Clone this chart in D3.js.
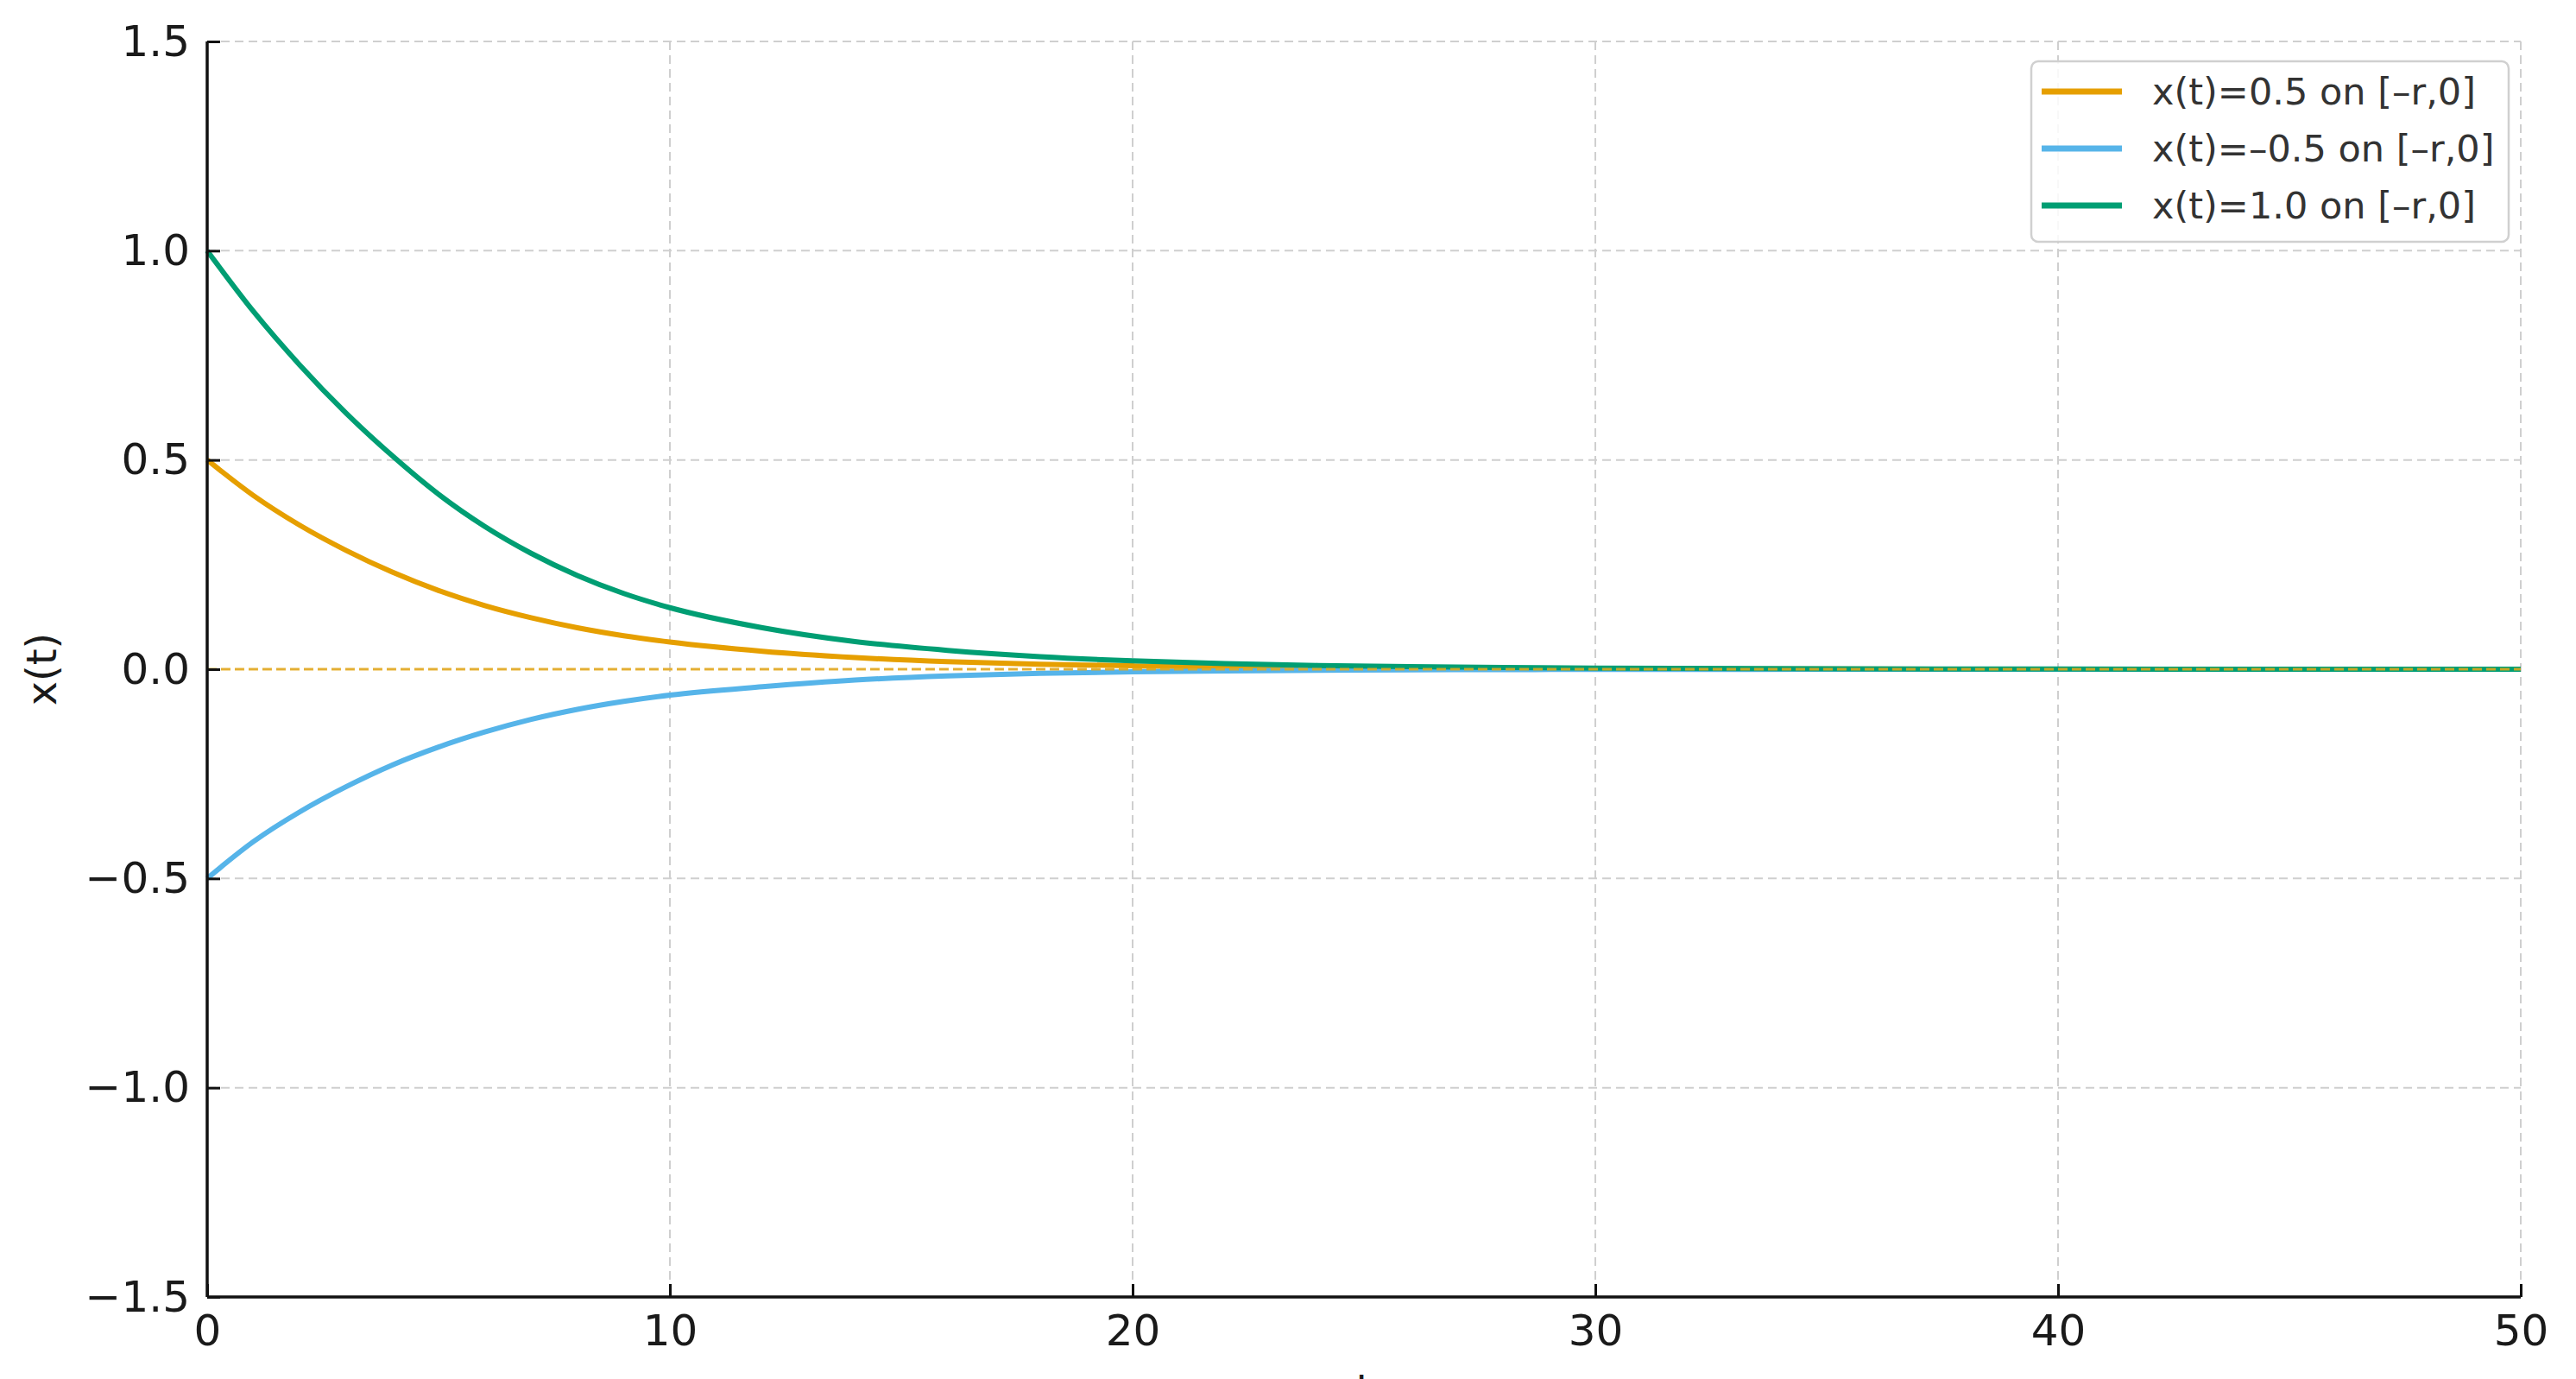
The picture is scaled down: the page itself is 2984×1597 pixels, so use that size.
<!DOCTYPE html>
<html>
<head>
<meta charset="utf-8">
<script src="https://cdn.jsdelivr.net/npm/d3@7"></script>
<style>
  html, body { margin: 0; padding: 0; background: #fff; }
  svg { display: block; font-family: "DejaVu Sans", sans-serif; }
</style>
</head>
<body>
<div id="chart"></div>
<script>
// Sample times (t)
const times = [0, 1, 2, 3, 4, 5, 6, 7, 8, 9, 10, 12, 14, 16, 18, 20, 22, 24, 26, 28, 30, 35, 40, 45, 50];

// x(t) for each initial history
const seriesHalf = [0.5, 0.415, 0.344, 0.284, 0.232, 0.188, 0.152, 0.123, 0.099, 0.080, 0.065, 0.043, 0.028, 0.018, 0.012, 0.008, 0.005, 0.0033, 0.002, 0.0014, 0.0009, 0.0003, 0, 0, 0];
const seriesNegHalf = [-0.5, -0.412, -0.341, -0.281, -0.229, -0.186, -0.150, -0.120, -0.096, -0.077, -0.062, -0.042, -0.026, -0.016, -0.010, -0.006, -0.004, -0.0025, -0.0016, -0.001, -0.0006, -0.0002, 0, 0, 0];
const seriesOne = [1.0, 0.855, 0.727, 0.612, 0.51, 0.418, 0.341, 0.277, 0.224, 0.181, 0.147, 0.099, 0.066, 0.045, 0.030, 0.020, 0.0135, 0.009, 0.006, 0.004, 0.0027, 0.001, 0.0003, 0, 0];

const seriesLabels = ["x(t)=0.5 on [–r,0]", "x(t)=–0.5 on [–r,0]", "x(t)=1.0 on [–r,0]"];
const seriesColors = ["#E69F00", "#56B4E9", "#009E73"];

const xTicks = [0, 10, 20, 30, 40, 50];
const yTicks = [-1.5, -1.0, -0.5, 0.0, 0.5, 1.0, 1.5];

const W = 2984, H = 1597;
const margin = { top: 48, right: 64, bottom: 95, left: 240 };
const innerW = W - margin.left - margin.right;
const innerH = H - margin.top - margin.bottom;

const svg = d3.select("#chart").append("svg")
  .attr("width", W)
  .attr("height", H);

const chart = svg.append("g")
  .attr("transform", `translate(${margin.left},${margin.top})`);

const x = d3.scaleLinear().domain([0, 50]).range([0, innerW]);
const y = d3.scaleLinear().domain([-1.5, 1.5]).range([innerH, 0]);

// Grid
chart.append("g").selectAll("line.vgrid")
  .data(xTicks)
  .enter().append("line")
  .attr("x1", d => x(d)).attr("x2", d => x(d))
  .attr("y1", 0).attr("y2", innerH)
  .attr("stroke", "#cfcfcf")
  .attr("stroke-width", 2)
  .attr("stroke-dasharray", "10,6");

chart.append("g").selectAll("line.hgrid")
  .data(yTicks)
  .enter().append("line")
  .attr("x1", 0).attr("x2", innerW)
  .attr("y1", d => y(d)).attr("y2", d => y(d))
  .attr("stroke", "#cfcfcf")
  .attr("stroke-width", 2)
  .attr("stroke-dasharray", "10,6");

// Curves
const allSeries = [seriesHalf, seriesNegHalf, seriesOne];
const line = d3.line()
  .x(d => x(d[0]))
  .y(d => y(d[1]))
  .curve(d3.curveMonotoneX);

allSeries.forEach((vals, i) => {
  chart.append("path")
    .datum(times.map((t, j) => [t, vals[j]]))
    .attr("fill", "none")
    .attr("stroke", seriesColors[i])
    .attr("stroke-width", 6)
    .attr("stroke-linejoin", "round")
    .attr("d", line);
});

// Zero reference line
chart.append("line")
  .attr("x1", 0).attr("x2", innerW)
  .attr("y1", y(0)).attr("y2", y(0))
  .attr("stroke", "#E6A817")
  .attr("stroke-opacity", 0.85)
  .attr("stroke-width", 3)
  .attr("stroke-dasharray", "11,5");

// Axes
const xAxis = chart.append("g")
  .attr("transform", `translate(0,${innerH})`)
  .call(d3.axisBottom(x).tickValues(xTicks).tickFormat(d3.format("d"))
    .tickSize(-15).tickPadding(20));

const yAxis = chart.append("g")
  .call(d3.axisLeft(y).tickValues(yTicks).tickFormat(d3.format(".1f"))
    .tickSize(-15).tickPadding(20));

[xAxis, yAxis].forEach(ax => {
  ax.select(".domain").attr("stroke", "#111").attr("stroke-width", 3.5);
  ax.selectAll(".tick line").attr("stroke", "#111").attr("stroke-width", 3);
  ax.selectAll(".tick text")
    .attr("fill", "#1a1a1a")
    .style("font-size", "50px")
    .style("font-family", "DejaVu Sans, sans-serif");
});
xAxis.select(".domain").attr("d", `M0,0H${innerW}`);
yAxis.select(".domain").attr("d", `M0,${innerH}V0`);

// Axis labels
svg.append("text")
  .attr("transform", `translate(65,${margin.top + innerH / 2}) rotate(-90)`)
  .attr("text-anchor", "middle")
  .attr("fill", "#1a1a1a")
  .style("font-size", "48px")
  .text("x(t)");

svg.append("text")
  .attr("x", margin.left + innerW / 2)
  .attr("y", 1626)
  .attr("text-anchor", "middle")
  .attr("fill", "#1a1a1a")
  .style("font-size", "48px")
  .text("t");

// Legend
const legend = svg.append("g")
  .attr("transform", "translate(2353,71)");

legend.append("rect")
  .attr("width", 553)
  .attr("height", 209)
  .attr("rx", 8)
  .attr("fill", "#fff")
  .attr("fill-opacity", 0.85)
  .attr("stroke", "#d0d0d0")
  .attr("stroke-width", 2.5);

const rows = legend.selectAll("g.row")
  .data(seriesLabels)
  .enter().append("g")
  .attr("transform", (d, i) => `translate(0,${35 + i * 66})`);

rows.append("line")
  .attr("x1", 12).attr("x2", 105)
  .attr("stroke", (d, i) => seriesColors[i])
  .attr("stroke-width", 7);

rows.append("text")
  .attr("x", 140)
  .attr("dy", "0.36em")
  .attr("fill", "#333")
  .style("font-size", "43px")
  .text(d => d);
</script>
</body>
</html>
